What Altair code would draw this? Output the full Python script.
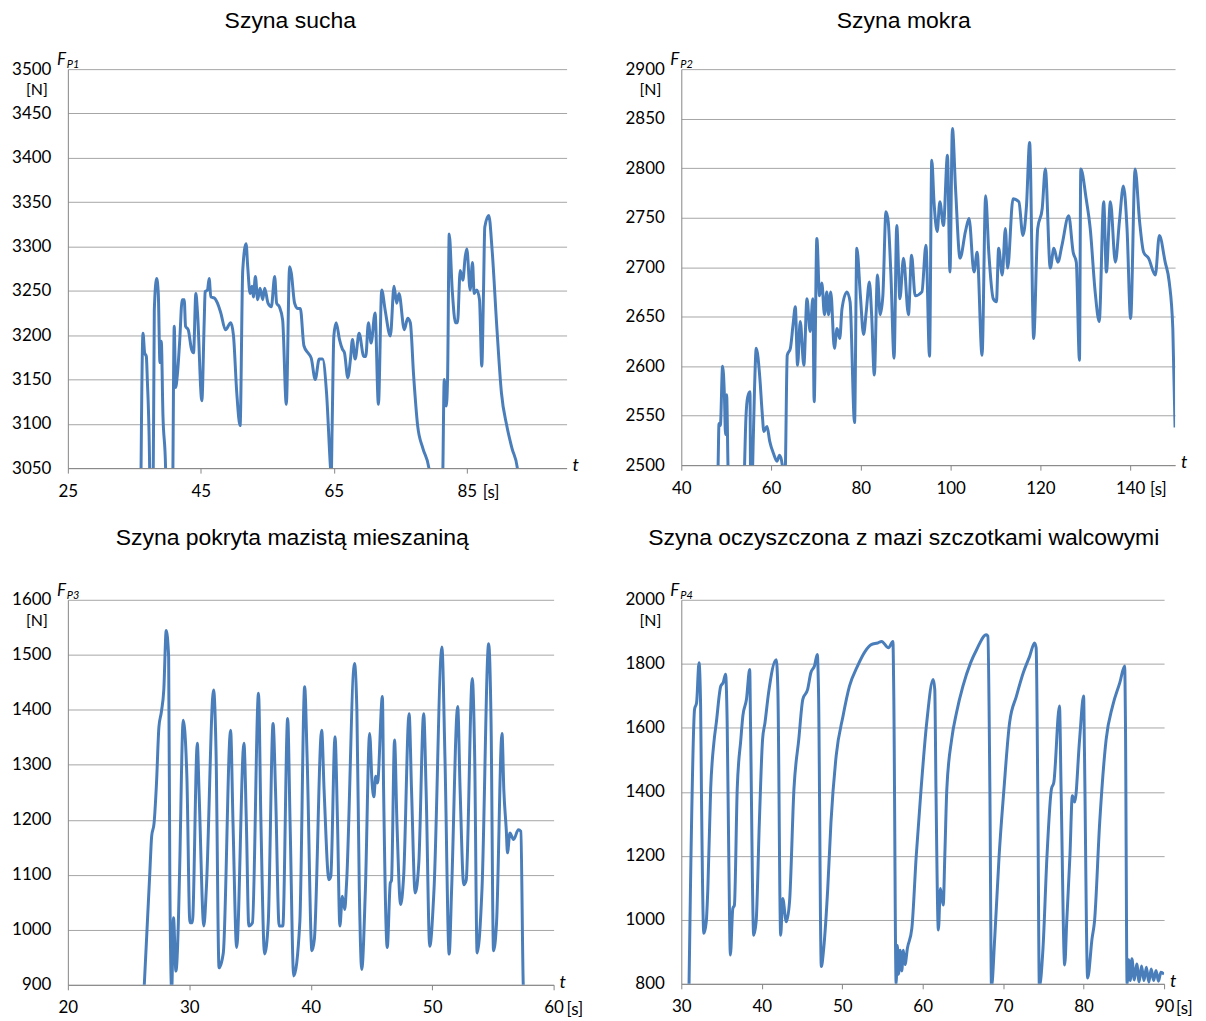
import altair as alt
import pandas as pd

# ---------------- data ----------------
titles = ["Szyna sucha", "Szyna mokra",
          "Szyna pokryta mazistą mieszaniną",
          "Szyna oczyszczona z mazi szczotkami walcowymi"]
subs = ["P1", "P2", "P3", "P4"]

x_ticks_1 = [25, 45, 65, 85]
x_ticks_2 = [40, 60, 80, 100, 120, 140]
x_ticks_3 = [20, 30, 40, 50, 60]
x_ticks_4 = [30, 40, 50, 60, 70, 80, 90]
y_ticks_1 = [3050, 3100, 3150, 3200, 3250, 3300, 3350, 3400, 3450, 3500]
y_ticks_2 = [2500, 2550, 2600, 2650, 2700, 2750, 2800, 2850, 2900]
y_ticks_3 = [900, 1000, 1100, 1200, 1300, 1400, 1500, 1600]
y_ticks_4 = [800, 1000, 1200, 1400, 1600, 1800, 2000]

t1 = [35.95, 36.3, 36.55, 36.8, 36.95, 37.3, 37.35,
      37.8, 38.0, 38.35, 38.6, 38.85, 39.05, 39.3, 39.7, 39.8,
      40.75, 40.8, 41.0, 41.2, 41.5, 41.8, 42.2, 42.5, 42.7, 43.1, 43.6, 43.9, 44.25, 44.5,
      45.15, 45.5, 45.65, 46.0, 46.25, 46.5, 47.0, 47.5, 48.0, 48.7, 49.5, 49.9, 50.4, 50.9,
      51.3, 51.8, 52.05, 52.4, 52.7, 52.9, 53.2, 53.55, 53.9, 54.3, 54.6, 55.1, 55.6, 56.1,
      56.4, 56.8, 57.3, 57.85, 58.35, 58.6, 59.1, 59.6, 59.96, 60.5, 61.1, 61.6, 62.2, 62.8,
      63.3, 63.9, 64.5, 64.6, 64.75, 65.0, 65.35, 65.85, 66.3, 66.6, 67.1, 67.5, 67.8, 68.2,
      68.8, 69.5, 69.8, 70.2, 70.6, 71.2, 71.7, 72.2, 72.7, 73.5, 74.05, 74.45, 74.8, 75.6,
      76.1, 76.5, 77.0, 77.6, 78.4, 79.3, 79.5,
      81.3, 81.4, 81.6, 81.9, 82.1, 82.35, 82.8, 83.3, 83.6, 84.0, 84.4, 84.75, 85.0, 85.5,
      85.85, 86.1, 86.5, 86.9, 87.25, 87.5, 87.7, 88.3, 88.8, 89.5, 90.2, 91.0, 91.8, 92.6, 93.0]
f1 = [3000, 3202, 3180, 3176, 3150, 3050, 3000,
      3000, 3228, 3264, 3247, 3169, 3193, 3110, 3050, 3000,
      3000, 3050, 3210, 3141, 3158, 3191, 3240, 3240, 3210, 3206, 3184, 3180, 3247, 3225,
      3126, 3214, 3249, 3251, 3264, 3243, 3242, 3236, 3225, 3206, 3214, 3200, 3135, 3098,
      3273, 3303, 3277, 3247, 3255, 3243, 3266, 3240, 3253, 3240, 3253, 3236, 3232, 3266,
      3236, 3232, 3217, 3122, 3277, 3270, 3236, 3230, 3230, 3188, 3180, 3174, 3150, 3173,
      3173, 3135, 3050, 3040, 3100, 3199, 3214, 3195, 3184, 3180, 3152, 3173, 3195, 3173,
      3202, 3176, 3176, 3214, 3191, 3225, 3122, 3251, 3229, 3199, 3255, 3236, 3247, 3206,
      3219, 3214, 3154, 3098, 3072, 3050, 3000,
      3000, 3050, 3150, 3120, 3150, 3314, 3251, 3214, 3214, 3273, 3262, 3288, 3297, 3251,
      3282, 3247, 3251, 3240, 3165, 3247, 3322, 3335, 3296, 3210, 3135, 3098, 3072, 3050, 3000]

t2 = [48.1, 48.2, 48.4, 48.7, 49.2, 49.6, 49.85, 50.1, 50.4, 50.5,
      54.0, 54.1, 54.4, 54.8, 55.3, 55.45, 55.8, 55.9, 56.3, 56.7, 57.5, 58.0, 58.4, 59.1,
      59.7, 60.6, 61.3, 61.9, 62.5, 62.7, 63.1, 63.2, 63.6, 64.3, 64.9, 65.4, 65.9, 66.5,
      67.3, 68.0, 68.7, 69.3, 69.6, 70.2, 70.8, 71.3, 71.9, 72.4, 72.8, 73.3, 74.1, 74.7,
      75.3, 75.8, 76.9, 77.6, 78.6, 79.1, 79.9, 80.6, 81.2, 81.9, 82.4, 83.0, 83.7, 84.3,
      84.9, 85.6, 86.1, 86.7, 87.4, 88.0, 88.7, 89.5, 90.6, 91.3, 92.1, 93.6, 94.5, 95.3,
      95.8, 96.3, 97.0, 97.6, 98.4, 99.3, 99.85, 100.4, 101.1, 102.1, 103.3, 104.1, 105.2,
      105.9, 107.0, 107.8, 108.5, 109.5, 110.2, 110.7, 111.5, 112.2, 112.7, 113.9, 115.2,
      116.1, 116.9, 117.6, 118.5, 119.4, 120.4, 121.1, 122.2, 123.0, 123.9, 124.8, 126.3,
      127.3, 128.0, 128.7, 129.0, 130.2, 131.1, 132.2, 133.1, 134.1, 134.7, 135.6, 136.7,
      137.6, 138.5, 139.3, 140.1, 141.1, 142.1, 143.0, 144.1, 145.6, 146.5, 147.8, 148.7,
      149.5, 150.0]
f2 = [2480, 2500, 2542, 2540, 2600, 2571, 2531, 2571, 2500, 2480,
      2480, 2500, 2548, 2569, 2574, 2480, 2480, 2500, 2575, 2618, 2588, 2554, 2534, 2539,
      2524, 2511, 2504, 2510, 2500, 2480, 2480, 2500, 2611, 2618, 2642, 2660, 2601, 2645,
      2601, 2668, 2635, 2668, 2564, 2729, 2671, 2684, 2652, 2675, 2652, 2675, 2618, 2638,
      2628, 2658, 2675, 2665, 2543, 2719, 2671, 2632, 2655, 2685, 2652, 2591, 2692, 2652,
      2671, 2756, 2746, 2692, 2608, 2742, 2668, 2709, 2652, 2712, 2671, 2675, 2722, 2610,
      2808, 2766, 2736, 2766, 2742, 2813, 2695, 2840, 2779, 2709, 2736, 2749, 2695,
      2715, 2611, 2772, 2715, 2668, 2665, 2719, 2692, 2739, 2699, 2769, 2766,
      2732, 2762, 2826, 2628, 2739, 2759, 2799, 2699, 2719, 2705, 2722, 2752,
      2715, 2705, 2606, 2799, 2769, 2739, 2675, 2645, 2766, 2695, 2766, 2705,
      2746, 2782, 2739, 2648, 2799, 2746, 2715, 2709, 2692, 2732, 2705, 2685,
      2638, 2538]

t3 = [26.25, 26.75, 26.9, 27.1, 27.3, 27.5, 27.7, 27.9, 28.1, 28.3, 28.4, 28.55, 28.7,
      28.9, 29.1, 29.2, 29.5, 29.8, 30.05, 30.25, 30.66, 30.8, 31.2, 31.4, 32.0, 32.2,
      32.45, 32.8, 33.4, 33.6, 33.9, 34.5, 34.7, 34.9, 35.2, 35.7, 35.9, 36.2, 36.5, 36.9,
      37.1, 37.4, 37.7, 38.1, 38.3, 38.6, 39.1, 39.5, 39.7, 40.1, 40.3, 40.9, 41.1, 41.5,
      41.65, 42.0, 42.2, 42.4, 42.6, 42.8, 42.95, 43.6, 43.8, 44.0, 44.2, 44.5, 44.85,
      45.05, 45.2, 45.35, 45.5, 45.9, 46.0, 46.3, 46.55, 46.65, 46.9, 47.1, 47.4, 47.65,
      48.1, 48.3, 48.6, 48.9, 49.3, 49.5, 49.8, 50.15, 50.8, 51.05, 51.4, 51.6, 52.1, 52.3,
      52.6, 52.8, 53.3, 53.5, 53.7, 54.1, 54.65, 54.85, 55.05, 55.3, 55.75, 55.9, 56.1,
      56.2, 56.4, 56.7, 57.1, 57.3, 57.5, 57.55]
f3 = [880, 1104, 1170, 1194, 1267, 1369, 1396, 1436, 1544, 1496, 1085, 890, 1022,
      925, 1013, 1104, 1381, 1279, 1013, 1013, 1339, 1254, 1007, 1073, 1436, 1327,
      931, 958, 1363, 1194, 968, 1339, 1194, 1007, 1013, 1430, 1194, 956, 1013, 1375,
      1254, 1007, 1007, 1384, 1194, 916, 1013, 1442, 1315, 962, 983, 1363, 1254, 1091,
      1097, 1351, 1200, 1007, 1061, 1037, 1085, 1484, 1399, 1073, 928, 1073, 1357,
      1267, 1242, 1279, 1267, 1424, 1254, 968, 1085, 1090, 1345, 1194, 1046, 1097,
      1393, 1254, 1067, 1122, 1393, 1254, 970, 1073, 1514, 1315, 956, 1073, 1406, 1254,
      1082, 1090, 1457, 1315, 958, 1073, 1520, 1375, 962, 1013, 1357, 1254, 1182,
      1140, 1176, 1164, 1182, 1179, 900, 880]

t4 = [30.95, 31.15, 31.65, 31.9, 32.2, 32.4, 32.5, 32.8, 33.1, 33.3, 33.65, 34.05, 34.35,
      34.9, 35.2, 35.5, 35.7, 35.9, 36.1, 36.4, 36.6, 36.95, 37.4, 37.65, 38.1, 38.5, 38.6,
      39.0, 39.3, 39.7, 40.1, 40.4, 40.85, 41.8, 42.0, 42.35, 42.6, 43.05, 43.45, 44.0,
      44.6, 45.1, 45.7, 46.1, 46.55, 46.9, 47.05, 47.4, 47.7, 48.2, 48.6, 49.25, 50.1,
      50.9, 51.9, 52.85, 53.6, 54.4, 54.9, 55.75, 56.3, 56.4, 56.7, 56.85, 57.0, 57.2,
      57.4, 57.6, 57.8, 58.1, 58.65, 59.2, 59.8, 60.5, 61.3, 61.5, 61.65, 61.95, 62.2,
      62.55, 62.75, 63.0, 63.6, 64.2, 65.0, 65.95, 66.7, 67.9, 68.1, 68.35, 68.55, 68.95,
      69.5, 70.1, 70.8, 71.65, 72.5, 73.3, 73.9, 74.1, 74.3, 74.5, 74.95, 75.45, 76.0,
      76.3, 77.0, 77.2, 77.65, 77.9, 78.3, 78.6, 78.9, 79.5, 80.0, 80.1, 80.5, 81.05,
      81.35, 82.0, 82.8, 83.6, 84.5, 85.1, 85.2, 85.4, 85.6, 85.8, 86.0, 86.3, 86.6,
      86.9, 87.2, 87.5, 87.8, 88.1, 88.4, 88.7, 89.0, 89.3, 89.6, 90.0]
f4 = [780, 1118, 1658, 1678, 1803, 1668, 1409, 958, 994, 1098, 1409, 1554, 1616,
      1730, 1741, 1767, 1616, 1201, 890, 1035, 1046, 1409, 1564, 1637, 1689, 1782, 1616,
      952, 994, 1305, 1564, 1616, 1710, 1813, 1720, 952, 1067, 994, 1056, 1409,
      1564, 1689, 1720, 1772, 1793, 1829, 1720, 854, 911, 1098, 1305, 1513, 1637,
      1730, 1793, 1839, 1860, 1865, 1870, 1850, 1870, 1720, 800, 920, 830, 905,
      840, 905, 860, 911, 973, 1201, 1409, 1616, 1751, 1720, 1409, 968, 1098,
      1046, 1201, 1409, 1564, 1647, 1730, 1803, 1844, 1891, 1886, 1409, 790, 942,
      1201, 1409, 1616, 1699, 1772, 1824, 1865, 1850, 1409, 790, 911, 1201, 1409,
      1430, 1668, 1409, 859, 994, 1201, 1388, 1368, 1564, 1699, 1533, 818, 942,
      994, 1305, 1564, 1668, 1741, 1793, 1616, 800, 875, 810, 878, 812, 862,
      806, 856, 810, 852, 805, 846, 810, 842, 808, 836, 830]

# ---------------- style ----------------
BLUE = "#4a7ebb"
LABEL_FONT = "Lato"
TITLE_FONT = "Liberation Sans"


def panel(t, f, xdom, xticks, ydom, yticks, width, height, title, sub, title_x, title_y,
          s_dx):
    df = pd.DataFrame({"t": t, "F": f})
    line = alt.Chart(df).mark_line(color=BLUE, strokeWidth=3, clip=True,
                                   interpolate="monotone").encode(
        x=alt.X("t:Q", scale=alt.Scale(domain=xdom, nice=False, zero=False),
                axis=alt.Axis(values=xticks, title=None, grid=False, format="d",
                              tickSize=5, labelPadding=10, labelFlush=False)),
        y=alt.Y("F:Q", scale=alt.Scale(domain=ydom, nice=False, zero=False),
                axis=alt.Axis(values=yticks, title=None, grid=True, format="d",
                              tickSize=0, labelPadding=17, labelFlush=False)),
    )

    def txt(s, **kw):
        return alt.Chart(pd.DataFrame({"s": [s]})).mark_text(**kw).encode(text="s:N")

    title_m = txt(title, font=TITLE_FONT, fontSize=23, color="#000", align="center",
                  baseline="middle").encode(x=alt.value(title_x), y=alt.value(title_y))
    f_m = txt("F", font=LABEL_FONT, fontSize=17, fontStyle="italic", color="#000",
              align="left", baseline="alphabetic").encode(x=alt.value(-11), y=alt.value(-4))
    sub_m = txt(sub, font=LABEL_FONT, fontSize=11, fontStyle="italic", color="#000",
                align="left", baseline="alphabetic").encode(x=alt.value(-1), y=alt.value(-1))
    n_m = txt("[N]", font=LABEL_FONT, fontSize=16, color="#000", align="center",
              baseline="middle").encode(x=alt.value(-31), y=alt.value(21))
    t_m = txt("t", font=LABEL_FONT, fontSize=18, fontStyle="italic", color="#000",
              align="left", baseline="middle").encode(x=alt.value(width + 6),
                                                      y=alt.value(height - 2))
    s_m = alt.Chart(pd.DataFrame({"v": [xticks[-1]], "s": ["[s]"]})).mark_text(
        font=LABEL_FONT, fontSize=17, color="#000", align="left", baseline="middle",
        dx=s_dx).encode(
        x=alt.X("v:Q", scale=alt.Scale(domain=xdom, nice=False, zero=False)),
        y=alt.value(height + 25), text="s:N")
    return alt.layer(line, title_m, f_m, sub_m, n_m, t_m, s_m).properties(
        width=width, height=height)


p1 = panel(t1, f1, [25, 100], x_ticks_1, [3050, 3500], y_ticks_1, 500, 400,
           titles[0], subs[0], 223, -48, 16)
p2 = panel(t2, f2, [40, 150], x_ticks_2, [2500, 2900], y_ticks_2, 495, 397,
           titles[1], subs[1], 223, -48, 20)
p3 = panel(t3, f3, [20, 60], x_ticks_3, [900, 1600], y_ticks_3, 487, 386,
           titles[2], subs[2], 225, -62, 13)
p4 = panel(t4, f4, [30, 90], x_ticks_4, [800, 2000], y_ticks_4, 484, 385,
           titles[3], subs[3], 223, -62, 12)

chart = alt.concat(p1, p2, p3, p4, columns=2,
                   spacing={"row": 132, "column": 115}, bounds="flush").properties(
    padding={"left": 3, "top": 1, "right": 5, "bottom": 5}
).configure_view(stroke=None).configure_axis(
    labelFont=LABEL_FONT, labelFontSize=17, labelColor="#000",
    domainColor="#868686", tickColor="#868686", gridColor="#a6a6a6",
    gridWidth=1, domainWidth=1,
)

chart.save("out.html", embed_options={"renderer": "svg", "actions": False})
